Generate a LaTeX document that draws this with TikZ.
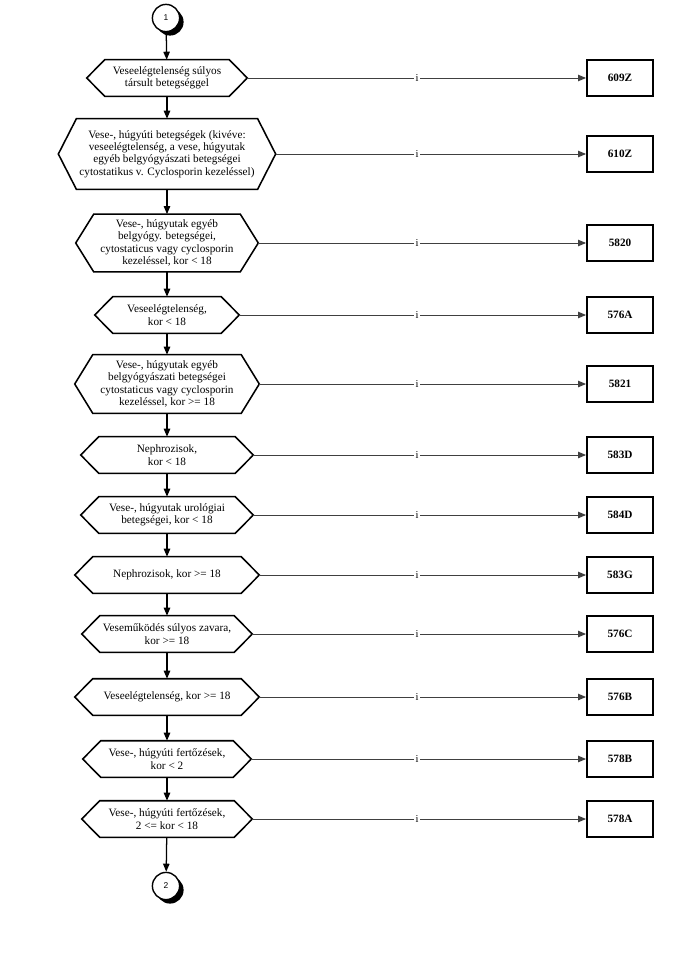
\documentclass[tikz,border=0pt]{standalone}
\usepackage{fontspec}
\setmainfont{Liberation Serif}
\setsansfont{Liberation Sans}
\usetikzlibrary{arrows.meta, shadows}

\begin{document}
\begin{tikzpicture}[
  font=\fontsize{8}{8.8}\selectfont,
  dec/.style={rectangle, align=center, inner sep=2pt, minimum height=9mm},
  frame/.style={line width=1.1pt, line join=miter},
  code/.style={rectangle, draw, line width=1.3pt, minimum width=16.5mm, minimum height=9mm,
               font=\fontsize{8}{9}\selectfont\bfseries},
  conn/.style={circle, draw, line width=1pt, fill=white, minimum size=6.8mm, inner sep=0pt,
               font=\sffamily\fontsize{6}{7}\selectfont,
               drop shadow={shadow xshift=1mm, shadow yshift=-1mm, fill=black, opacity=1}},
  lbl/.style={inner sep=1pt, font=\fontsize{7.5}{8}\selectfont},
  arr/.style={-{Triangle[length=2mm, width=1.6mm]}, line width=0.9pt},
  side/.style={-{Triangle[length=2mm, width=1.6mm]}, line width=0.7pt, black!75}
]
\useasboundingbox (-4.175,0) rectangle (13.0,-24.05);
\coordinate (ix) at (6.25,0);
\coordinate (bx) at (11.325,0);
% page connector and the chain of decisions (central column)
\node[conn] (c1) at (-0.025,-0.45) {1};
\node[dec, minimum width=31mm] (d1) at (0,-1.95) {Veseelégtelenség súlyos\\ társult betegséggel};
\node[dec, minimum width=43.5mm, minimum height=17.5mm] (d2) at (0,-3.85)
  {Vese-, húgyúti betegségek (kivéve:\\ veseelégtelenség, a vese, húgyutak\\ egyéb belgyógyászati betegségei\\ cytostatikus v. Cyclosporin kezeléssel)};
\node[dec, minimum width=36.5mm, minimum height=14.3mm] (d3) at (0,-6.075)
  {Vese-, húgyutak egyéb\\ belgyógy. betegségei,\\ cytostaticus vagy cyclosporin\\ kezeléssel, kor < 18};
\node[dec, minimum width=27mm] (d4) at (0,-7.875) {Veseelégtelenség,\\ kor < 18};
\node[dec, minimum width=37mm, minimum height=14.5mm] (d5) at (0,-9.6)
  {Vese-, húgyutak egyéb\\ belgyógyászati betegségei\\ cytostaticus vagy cyclosporin\\ kezeléssel, kor >= 18};
\node[dec, minimum width=34mm] (d6) at (0,-11.375) {Nephrozisok,\\ kor < 18};
\node[dec, minimum width=34mm] (d7) at (0,-12.875) {Vese-, húgyutak urológiai\\ betegségei, kor < 18};
\node[dec, minimum width=37mm] (d8) at (0,-14.375) {Nephrozisok, kor >= 18};
\node[dec, minimum width=32.5mm] (d9) at (0,-15.85) {Veseműködés súlyos zavara,\\ kor >= 18};
\node[dec, minimum width=37mm] (d10) at (0,-17.425) {Veseelégtelenség, kor >= 18};
\node[dec, minimum width=33mm] (d11) at (0,-18.975) {Vese-, húgyúti fertőzések,\\ kor < 2};
\node[dec, minimum width=33.5mm] (d12) at (0,-20.475) {Vese-, húgyúti fertőzések,\\ 2 <= kor < 18};
\node[conn] (c2) at (-0.025,-22.15) {2};
% result codes on the right
\node[code] (b1) at (d1 -| bx) {609Z};
\node[code] (b2) at (d2 -| bx) {610Z};
\node[code] (b3) at (d3 -| bx) {5820};
\node[code] (b4) at (d4 -| bx) {576A};
\node[code] (b5) at (d5 -| bx) {5821};
\node[code] (b6) at (d6 -| bx) {583D};
\node[code] (b7) at (d7 -| bx) {584D};
\node[code] (b8) at (d8 -| bx) {583G};
\node[code] (b9) at (d9 -| bx) {576C};
\node[code] (b10) at (d10 -| bx) {576B};
\node[code] (b11) at (d11 -| bx) {578B};
\node[code] (b12) at (d12 -| bx) {578A};
% hexagon outlines and the "i" branches
\foreach \k in {1,...,12}{
  \draw[frame] (d\k.north west) -- (d\k.north east) -- ([xshift=4.5mm]d\k.east) coordinate (t\k)
    -- (d\k.south east) -- (d\k.south west) -- ([xshift=-4.5mm]d\k.west) -- cycle;
  \node[lbl] (i\k) at (d\k -| ix) {i};
  \draw[side] (t\k) -- (i\k) -- (b\k);
}
\draw[arr] (c1) -- (d1);
\draw[arr] (d1) -- (d2);
\draw[arr] (d2) -- (d3);
\draw[arr] (d3) -- (d4);
\draw[arr] (d4) -- (d5);
\draw[arr] (d5) -- (d6);
\draw[arr] (d6) -- (d7);
\draw[arr] (d7) -- (d8);
\draw[arr] (d8) -- (d9);
\draw[arr] (d9) -- (d10);
\draw[arr] (d10) -- (d11);
\draw[arr] (d11) -- (d12);
\draw[arr] (d12) -- (c2);
\end{tikzpicture}
\end{document}
